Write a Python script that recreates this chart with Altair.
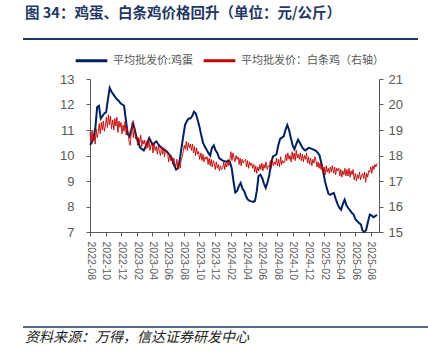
import altair as alt
import pandas as pd

# egg: weekly observations from 2022-08-01
egg_start = "2022-08-01"

egg = [
    10.42, 10.5, 10.7, 11.1, 11.9, 11.95, 11.45, 11.55, 11.65, 11.7,
    12.2, 12.65, 12.5, 12.4, 12.3, 12.2, 12.15, 12.05, 12.0, 11.95,
    11.4, 10.85, 10.75, 11.0, 11.27, 11.0, 10.7, 10.5, 10.3, 10.25,
    10.2, 10.35, 10.5, 10.69, 10.55, 10.42, 10.5, 10.55, 10.45, 10.36,
    10.3, 10.25, 10.18, 10.15, 10.05, 9.98, 9.8, 9.6, 9.45, 9.5,
    9.8, 10.3, 10.75, 11.2, 11.35, 11.45, 11.45, 11.55, 11.72, 11.65,
    11.4, 11.14, 10.8, 10.5, 10.35, 10.23, 10.1, 10.0, 10.3, 10.4,
    10.2, 10.1, 9.9, 9.85, 9.8, 9.78, 9.75, 9.8, 9.75, 9.5,
    9.0, 8.55, 8.6, 8.8, 8.92, 8.7, 8.6, 8.4, 8.27, 8.22,
    8.2, 8.18, 8.22, 8.6, 9.2, 9.25, 9.12, 8.9, 8.73, 8.95,
    9.25, 9.7, 9.96, 10.0, 10.05, 10.4, 10.65, 10.7, 10.75, 11.0,
    11.2, 11.0, 10.69, 10.4, 10.25, 10.45, 10.62, 10.5, 10.36, 10.25,
    10.2, 10.25, 10.3, 10.28, 10.25, 10.22, 10.18, 10.1, 10.0, 9.7,
    9.38, 9.0, 8.73, 8.5, 8.46, 8.5, 8.53, 8.3, 8.1, 7.95,
    7.87, 8.1, 8.27, 8.05, 7.94, 7.85, 7.75, 7.68, 7.5, 7.42,
    7.35, 7.3, 7.05, 7.0, 7.09, 7.4, 7.68, 7.65, 7.58, 7.62,
    7.68,
]

# white-strip chicken: observations every ~4 days, 2022-08-01 .. 2025-08-26 (right axis)
chicken_start = "2022-08-01"
chicken_end = "2025-08-26"
chicken = [
    18.9, 18.5, 19.0, 18.6, 18.8, 18.45, 19.05, 18.7,
    18.9, 19.25, 18.85, 19.3, 19.0, 19.35, 18.95,
    19.15, 19.5, 19.1, 19.6, 19.2, 19.55, 19.05, 19.4,
    19.0, 19.45, 19.15, 19.5, 18.9, 19.35, 19.1,
    19.3, 18.85, 19.2, 18.95, 19.35, 18.8, 19.1, 18.9,
    18.5, 18.4, 18.9, 19.3, 18.7, 19.1, 18.65,
    18.75, 18.4, 18.7, 18.5, 18.8, 18.35, 18.6, 18.45,
    18.6, 18.25, 18.55, 18.3, 18.65, 18.2, 18.4,
    18.45, 18.1, 18.5, 18.2, 18.35, 18.05, 18.4, 18.15,
    18.0, 18.35, 18.05, 18.3, 17.95, 18.25, 18.1,
    18.1, 17.75, 18.05, 17.8, 17.95, 17.65, 17.9, 17.7,
    17.55, 17.85, 17.45, 17.7, 17.5, 17.85, 17.95,
    18.15, 18.4, 18.25, 18.55, 18.2, 18.5, 18.3, 18.45,
    18.2, 18.45, 18.1, 18.35, 18.0, 18.3, 18.05,
    18.15, 17.85, 18.1, 17.8, 18.05, 17.75, 17.95, 17.85,
    17.95, 17.65, 17.9, 17.6, 17.85, 17.55, 17.8,
    17.7, 17.45, 17.75, 17.5, 17.65, 17.4, 17.6, 17.45,
    17.5, 17.75, 17.45, 17.7, 17.55, 17.8, 17.6,
    17.85, 18.15, 17.8, 18.1, 17.9, 17.75, 18.0, 17.85,
    17.95, 17.65, 17.9, 17.6, 17.85, 17.7, 17.8,
    17.85, 17.55, 17.8, 17.5, 17.75, 17.6, 17.7, 17.5,
    17.65, 17.35, 17.6, 17.3, 17.55, 17.4, 17.65,
    17.45, 17.7, 17.4, 17.65, 17.5, 17.75, 17.45, 17.6,
    17.55, 17.8, 17.5, 17.85, 17.6, 17.75, 17.65,
    17.9, 17.6, 17.85, 17.55, 17.95, 17.65, 17.8, 17.7,
    17.75, 18.05, 17.8, 18.1, 17.85, 18.0, 17.75,
    18.15, 17.85, 18.1, 17.8, 18.2, 17.9, 18.05, 17.85,
    18.1, 17.8, 18.05, 17.75, 18.0, 17.85, 18.1,
    17.7, 17.95, 17.65, 17.9, 17.6, 17.85, 17.7, 17.95,
    17.8, 17.55, 17.75, 17.5, 17.7, 17.45, 17.65,
    17.3, 17.55, 17.25, 17.6, 17.35, 17.5, 17.3, 17.55,
    17.35, 17.6, 17.3, 17.55, 17.25, 17.5, 17.4,
    17.5, 17.2, 17.45, 17.15, 17.4, 17.25, 17.5, 17.2,
    17.45, 17.2, 17.5, 17.15, 17.4, 17.25, 17.45,
    17.05, 17.3, 17.0, 17.25, 17.1, 17.35, 17.05, 17.2,
    17.3, 17.1, 17.35, 16.95, 17.3, 17.15, 17.4,
    17.35, 17.55, 17.3, 17.6, 17.45, 17.65, 17.55, 17.7,
]

series_names = ["平均批发价:鸡蛋", "平均批发价：白条鸡（右轴）"]
x_tick_labels = [
    "2022-08", "2022-10", "2022-12", "2023-02", "2023-04", "2023-06",
    "2023-08", "2023-10", "2023-12", "2024-02", "2024-04", "2024-06",
    "2024-08", "2024-10", "2024-12", "2025-02", "2025-04", "2025-06",
    "2025-08",
]
left_ticks = [7, 8, 9, 10, 11, 12, 13]
right_ticks = [15, 16, 17, 18, 19, 20, 21]

title_text = "图 34：鸡蛋、白条鸡价格回升（单位：元/公斤）"
source_text = "资料来源：万得，信达证券研发中心"

NAVY = "#002060"
RED = "#C00000"
TITLE_C = "#1F3864"
AX = "#595959"
FONT = "Liberation Sans"
CJK = "Noto Sans CJK SC"

egg_dates = pd.date_range(egg_start, periods=len(egg), freq="7D").strftime("%Y-%m-%d").tolist()
chicken_dates = pd.date_range(chicken_start, chicken_end, periods=len(chicken)).strftime("%Y-%m-%d").tolist()
df = pd.concat([
    pd.DataFrame({"date": egg_dates, "value": egg, "series": series_names[0]}),
    pd.DataFrame({"date": chicken_dates, "value": chicken, "series": series_names[1]}),
])


def dt(s):
    y, m = s.split("-")
    return alt.DateTime(year=int(y), month=int(m), date=1, utc=True)


x_enc = alt.X(
    "date:T",
    title=None,
    scale=alt.Scale(type="utc", domain=[dt("2022-08"), alt.DateTime(year=2025, month=9, date=2, utc=True)], nice=False),
    axis=alt.Axis(
        values=[dt(s) for s in x_tick_labels], format="%Y-%m", labelAngle=90,
        labelAlign="left", labelBaseline="middle", labelPadding=5,
        labelFont=FONT, labelFontSize=10.5, labelColor=AX,
        tickSize=4, tickColor=AX, domainColor=AX, grid=False,
        labelOverlap=False,
    ),
)

color_enc = alt.Color(
    "series:N",
    scale=alt.Scale(domain=series_names, range=[NAVY, RED]),
    legend=alt.Legend(
        title=None, orient="none", legendX=-16, legendY=-36, direction="horizontal",
        symbolType="stroke", symbolSize=1000, symbolStrokeWidth=3,
        labelFont=CJK, labelFontSize=11, labelColor=AX, labelOffset=4,
        columnPadding=3,
    ),
)

base = alt.Chart(df)

egg_line = base.transform_filter(alt.datum.series == series_names[0]).mark_line(strokeWidth=2).encode(
    x=x_enc,
    y=alt.Y("value:Q", title=None,
            scale=alt.Scale(domain=[7, 13], nice=False, zero=False),
            axis=alt.Axis(orient="left", values=left_ticks, grid=False, tickSize=4,
                          labelPadding=12, labelFont=FONT, labelFontSize=13,
                          labelColor=AX, tickColor=AX, domainColor=AX)),
    color=color_enc,
)

chicken_line = base.transform_filter(alt.datum.series == series_names[1]).mark_line(strokeWidth=0.9).encode(
    x=x_enc,
    y=alt.Y("value:Q", title=None,
            scale=alt.Scale(domain=[15, 21], nice=False, zero=False),
            axis=alt.Axis(orient="right", values=right_ticks, grid=False, tickSize=4,
                          labelPadding=5, labelFont=FONT, labelFontSize=13,
                          labelColor=AX, tickColor=AX, domainColor=AX)),
    color=color_enc,
)

one = pd.DataFrame({"k": [0]})
title_mark = alt.Chart(one).mark_text(
    text=title_text, align="left", baseline="middle", font=CJK,
    fontSize=14.5, fontWeight="bold", color=TITLE_C,
).encode(x=alt.value(-65), y=alt.value(-65))

title_rule = alt.Chart(one).mark_rule(color=TITLE_C, strokeWidth=2).encode(
    x=alt.value(-67), x2=alt.value(328), y=alt.value(-40))

foot_rule = alt.Chart(one).mark_rule(color=TITLE_C, strokeWidth=1.5).encode(
    x=alt.value(-67), x2=alt.value(338), y=alt.value(248))

foot_text = alt.Chart(one).mark_text(
    text=source_text, align="left", baseline="middle", font=CJK,
    fontSize=14, fontStyle="italic", color="#222222",
).encode(x=alt.value(-65), y=alt.value(259))

chart = alt.layer(
    egg_line, chicken_line, title_mark, title_rule, foot_rule, foot_text
).resolve_scale(y="independent").properties(
    width=289, height=153,
    autosize=alt.AutoSizeParams(type="none"),
    padding={"left": 90, "top": 79, "right": 49, "bottom": 121},
    background="white",
).configure_view(stroke=None)

chart.save("out.html", embed_options={"renderer": "svg", "actions": False})
